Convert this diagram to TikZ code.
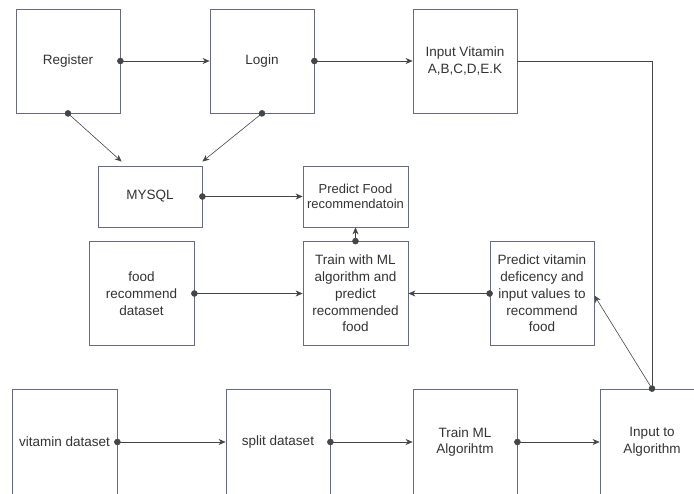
\documentclass[tikz,border=0pt]{standalone}
\usepackage{fontspec}
\setmainfont{Liberation Sans}
\usetikzlibrary{arrows.meta}

\definecolor{boxline}{HTML}{656A87}
\definecolor{wire}{HTML}{454545}

\begin{document}
\begin{tikzpicture}[x=1pt,y=-1pt,>={Stealth[length=7pt,width=6pt]},font=\fontsize{13.5}{16.7}\selectfont]
  \tikzstyle{box}=[draw=boxline,line width=0.8pt,minimum width=104pt,minimum height=104pt,align=center,text=black!80,inner sep=1pt]
  \tikzstyle{small box}=[box,minimum height=61pt]
  \tikzstyle{cut box}=[box,minimum height=106pt]
  \tikzstyle{link}=[draw=wire,line width=0.6pt,{Circle[length=6.5pt]}->,shorten <=-3.25pt]

  \clip (0,0) rectangle (694,494);

  % top row
  \node[box] (reg) at (68,61) {Register};
  \node[box] (login) at (262,61) {Login};
  \node[box] (vitin) at (465,61) {Input Vitamin\\A,B,C,D,E.K};

  % middle rows
  \node[small box] (mysql) at (150,196.5) {MYSQL};
  \node[small box, minimum width=105pt, font=\fontsize{13}{14.7}\selectfont] (predfood) at (355.5,196.5) {Predict Food\\recommendatoin};
  \node[box, minimum width=105pt] (food) at (141.5,293.5) {food\\recommend\\dataset};
  \node[box, minimum width=105pt] (train) at (355.5,293.5) {Train with ML\\algorithm and\\predict\\recommended\\food};
  \node[box] (predvit) at (542,293.5) {Predict vitamin\\deficency and\\input values to\\recommend\\food};

  % bottom row
  \node[cut box, minimum width=105pt] (vitds) at (64.5,442) {vitamin dataset};
  \node[cut box] (split) at (278,442) {split dataset};
  \node[cut box] (trainml) at (465,442) {Train ML\\Algorihtm};
  \node[cut box] (inalg) at (652,442) {Input to\\Algorithm};

  \draw[link] (reg.east) -- (login.west);
  \draw[link] (login.east) -- (vitin.west);
  \draw[link] (reg.south) -- ([xshift=24pt,yshift=4pt]mysql.north west);
  \draw[link] (login.south) -- ([yshift=4pt]mysql.north east);
  \draw[link] (mysql.east) -- (predfood.west);
  \draw[link] (train.north) -- (predfood.south);
  \draw[link] (food.east) -- (train.west);
  \draw[link] (predvit.west) -- (train.east);
  \draw[link] (inalg.north) -- ([yshift=-2pt]predvit.east);
  \draw[draw=wire,line width=0.6pt] (vitin.east) -| (inalg.north);
  \draw[link] (vitds.east) -- (split.west);
  \draw[link] (split.east) -- (trainml.west);
  \draw[link] (trainml.east) -- (inalg.west);
\end{tikzpicture}
\end{document}
